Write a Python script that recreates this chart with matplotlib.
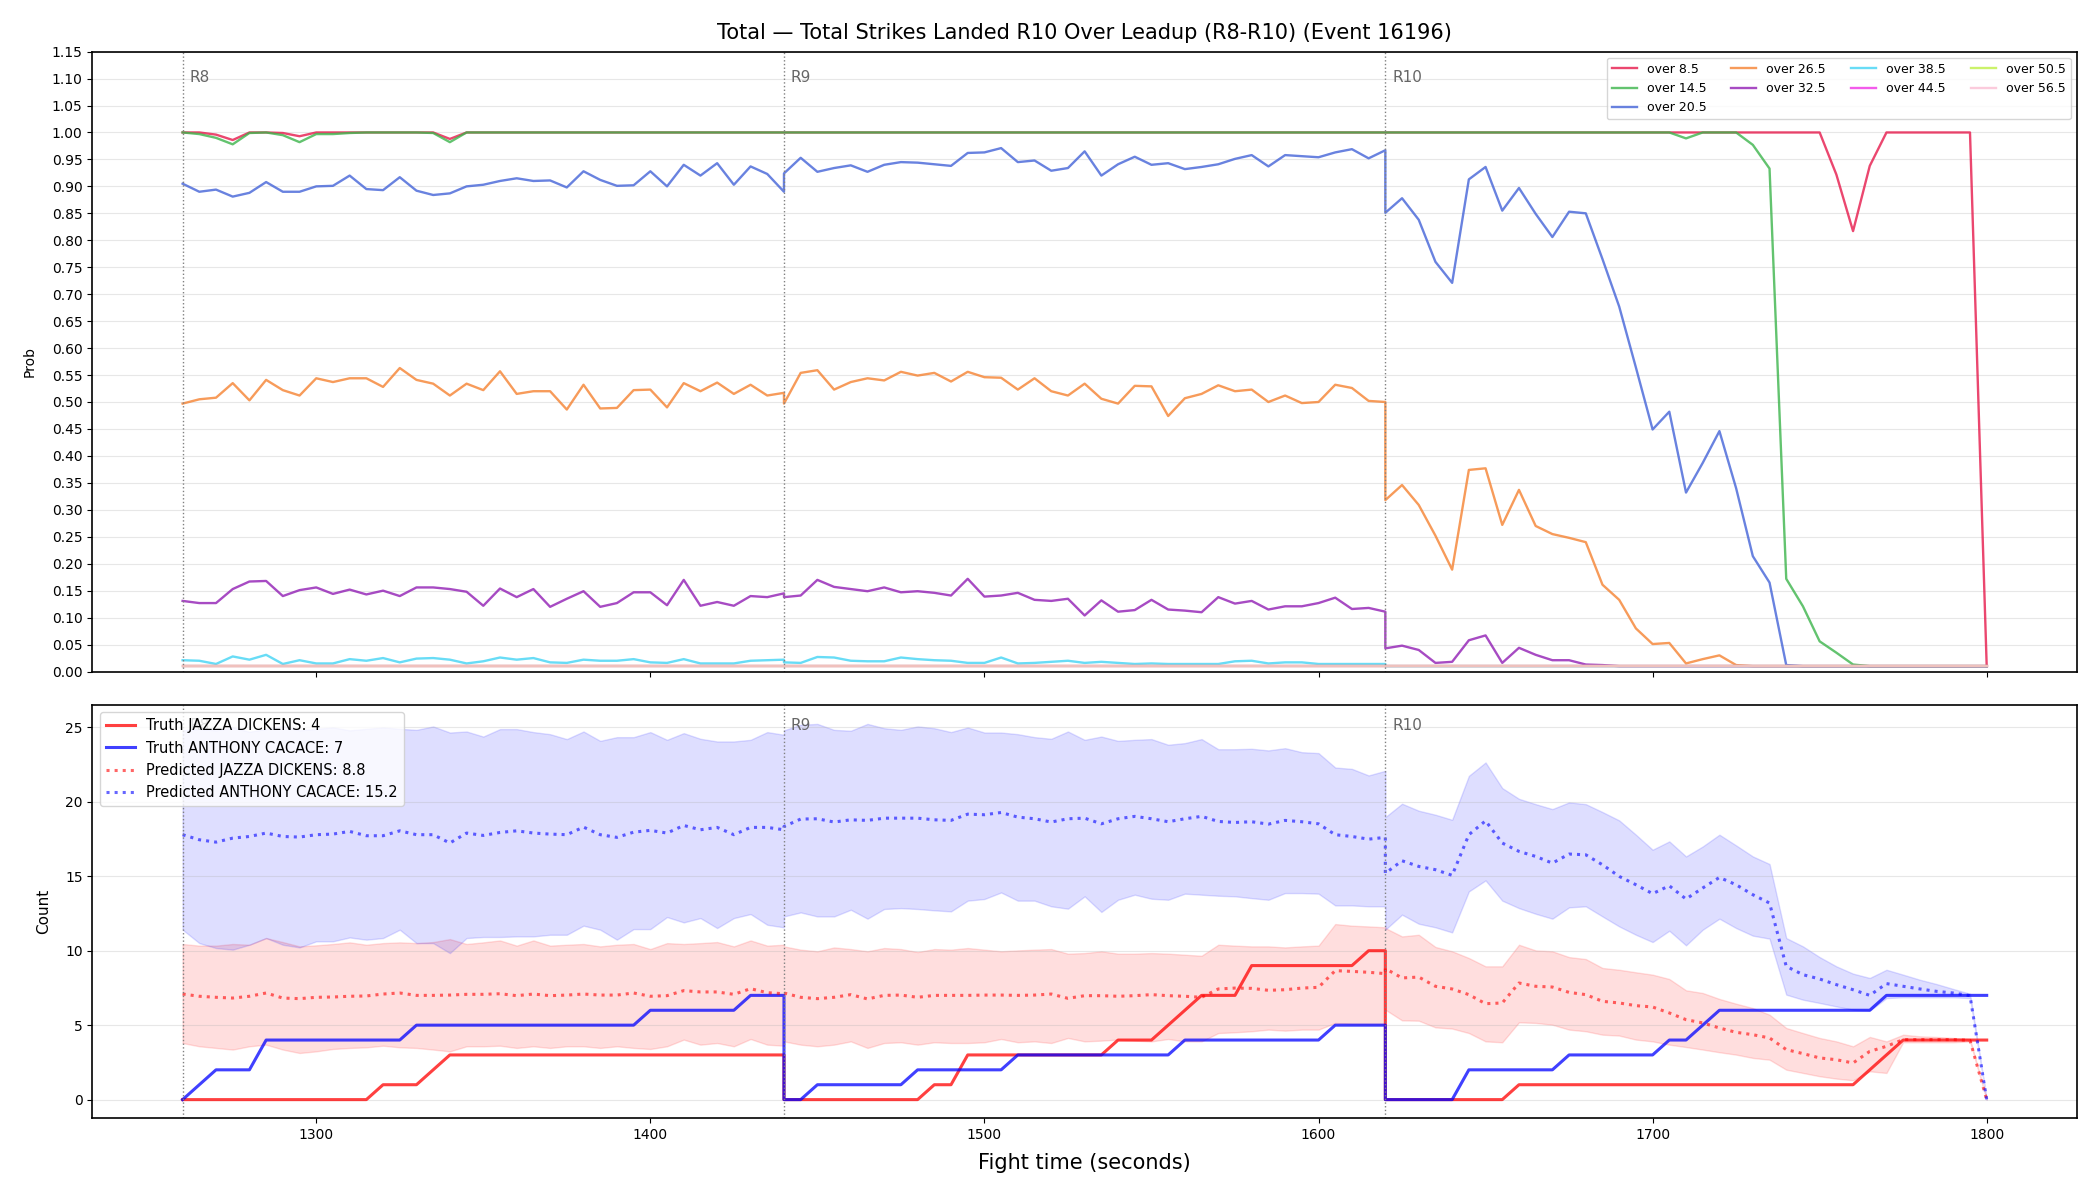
import numpy as np
import matplotlib
matplotlib.use('Agg')
import matplotlib.pyplot as plt

# ---- time grid: three rounds, a sample every 5 s, each round includes both ends
round_names = ['R8', 'R9', 'R10']
round_starts = [1260, 1440, 1620]
round_len = 180
step = 5

# ---- top panel: probability of "over X" lines (R8 | R9 | R10, 37 samples each)
over_8_5 = ([1.0, 1.0, 0.996, 0.986, 1.0, 1.0, 0.999, 0.993, 1.0, 1.0, 1.0, 1.0, 1.0, 1.0, 1.0, 1.0, 0.988] + [1.0] * 20
            + [1.0] * 37
            + [1.0] * 27 + [0.922, 0.817, 0.938] + [1.0] * 6 + [0.01])
over_14_5 = ([1.0, 0.997, 0.990, 0.978, 0.999, 1.0, 0.995, 0.982, 0.997, 0.997, 0.999, 1.0, 1.0, 1.0, 1.0, 0.999, 0.982] + [1.0] * 20
             + [1.0] * 37
             + [1.0] * 18 + [0.989, 1.0, 1.0, 1.0, 0.977, 0.933, 0.172, 0.121, 0.056, 0.035, 0.013] + [0.01] * 8)
over_20_5 = ([0.905, 0.890, 0.894, 0.881, 0.888, 0.908, 0.890, 0.890, 0.900, 0.901, 0.920, 0.895, 0.893, 0.917, 0.892, 0.884,
              0.887, 0.900, 0.903, 0.910, 0.915, 0.910, 0.911, 0.898, 0.928, 0.912, 0.901, 0.902, 0.928, 0.900, 0.940, 0.920,
              0.943, 0.903, 0.937, 0.923, 0.890]
             + [0.924, 0.953, 0.927, 0.934, 0.939, 0.927, 0.940, 0.945, 0.944, 0.941, 0.938, 0.962, 0.963, 0.971, 0.945, 0.948,
                0.929, 0.934, 0.965, 0.920, 0.941, 0.955, 0.940, 0.943, 0.932, 0.936, 0.941, 0.951, 0.958, 0.937, 0.958, 0.956,
                0.954, 0.963, 0.969, 0.952, 0.967]
             + [0.851, 0.878, 0.838, 0.760, 0.721, 0.913, 0.936, 0.855, 0.897, 0.849, 0.806, 0.853, 0.850, 0.765, 0.677, 0.564,
                0.449, 0.482, 0.332, 0.387, 0.446, 0.340, 0.214, 0.165, 0.012] + [0.01] * 12)
over_26_5 = ([0.497, 0.505, 0.508, 0.535, 0.503, 0.541, 0.522, 0.512, 0.544, 0.537, 0.544, 0.544, 0.528, 0.563, 0.541, 0.534,
              0.512, 0.534, 0.522, 0.557, 0.515, 0.520, 0.520, 0.486, 0.532, 0.488, 0.489, 0.522, 0.523, 0.490, 0.535, 0.520,
              0.536, 0.515, 0.532, 0.512, 0.517]
             + [0.497, 0.554, 0.559, 0.523, 0.537, 0.544, 0.540, 0.556, 0.549, 0.554, 0.538, 0.556, 0.546, 0.545, 0.523, 0.544,
                0.520, 0.512, 0.534, 0.506, 0.497, 0.530, 0.529, 0.474, 0.507, 0.515, 0.531, 0.520, 0.523, 0.500, 0.512, 0.498,
                0.500, 0.532, 0.526, 0.502, 0.500]
             + [0.318, 0.346, 0.309, 0.252, 0.189, 0.374, 0.377, 0.272, 0.337, 0.270, 0.255, 0.248, 0.240, 0.161, 0.133, 0.080,
                0.051, 0.053, 0.015, 0.023, 0.030, 0.012] + [0.01] * 15)
over_32_5 = ([0.131, 0.127, 0.127, 0.153, 0.167, 0.168, 0.140, 0.151, 0.156, 0.144, 0.152, 0.143, 0.150, 0.140, 0.156, 0.156,
              0.153, 0.148, 0.122, 0.154, 0.138, 0.153, 0.120, 0.135, 0.149, 0.120, 0.127, 0.147, 0.147, 0.123, 0.170, 0.122,
              0.129, 0.122, 0.140, 0.138, 0.145]
             + [0.138, 0.141, 0.170, 0.157, 0.153, 0.149, 0.156, 0.147, 0.149, 0.146, 0.141, 0.172, 0.139, 0.141, 0.146, 0.133,
                0.131, 0.135, 0.104, 0.132, 0.111, 0.114, 0.133, 0.115, 0.113, 0.110, 0.138, 0.126, 0.131, 0.115, 0.121, 0.121,
                0.127, 0.137, 0.116, 0.118, 0.111]
             + [0.043, 0.048, 0.040, 0.016, 0.018, 0.058, 0.067, 0.016, 0.044, 0.031, 0.021, 0.021, 0.013, 0.012] + [0.01] * 23)
over_38_5 = ([0.021, 0.020, 0.014, 0.028, 0.022, 0.031, 0.014, 0.021, 0.015, 0.015, 0.023, 0.020, 0.025, 0.017, 0.024, 0.025,
              0.022, 0.015, 0.019, 0.026, 0.022, 0.025, 0.017, 0.016, 0.022, 0.020, 0.020, 0.023, 0.017, 0.016, 0.023, 0.015,
              0.015, 0.015, 0.020, 0.021, 0.022]
             + [0.017, 0.016, 0.027, 0.026, 0.020, 0.019, 0.019, 0.026, 0.023, 0.021, 0.020, 0.016, 0.016, 0.026, 0.015, 0.016,
                0.018, 0.020, 0.016, 0.018, 0.016, 0.014, 0.015, 0.014, 0.014, 0.014, 0.014, 0.019, 0.020, 0.015, 0.017, 0.017,
                0.014, 0.014, 0.014, 0.014, 0.014]
             + [0.01] * 37)
over_44_5 = [0.01] * 111
over_50_5 = [0.01] * 111
over_56_5 = [0.01] * 111

line_labels = ['over 8.5', 'over 14.5', 'over 20.5', 'over 26.5', 'over 32.5',
               'over 38.5', 'over 44.5', 'over 50.5', 'over 56.5']
line_colors = ['#e6194b', '#3cb44b', '#4363d8', '#f58231', '#911eb4',
               '#42d4f4', '#f032e6', '#bfef45', '#fabed4']

# ---- bottom panel: cumulative counts within each round
fighter_a = 'JAZZA DICKENS'
fighter_b = 'ANTHONY CACACE'

truth_a = ([0] * 12 + [1, 1, 1, 2, 3] + [3] * 20
           + [0] * 9 + [1, 1] + [3] * 9 + [4, 4, 4, 5, 6, 7, 7, 7] + [9] * 7 + [10, 10]
           + [0] * 8 + [1] * 21 + [2, 3] + [4] * 6)
truth_b = ([0, 1, 2, 2, 2] + [4] * 9 + [5] * 14 + [6] * 6 + [7] * 3
           + [0, 0] + [1] * 6 + [2] * 6 + [3] * 10 + [4] * 9 + [5] * 4
           + [0] * 5 + [2] * 6 + [3] * 6 + [4, 4, 5] + [6] * 10 + [7] * 7)

pred_a = ([7.09, 6.94, 6.87, 6.82, 6.94, 7.16, 6.82, 6.78, 6.87, 6.89, 6.94, 6.96, 7.09, 7.16, 7.00, 7.00, 7.02, 7.07, 7.07,
           7.11, 6.98, 7.09, 6.98, 7.02, 7.09, 7.02, 7.02, 7.16, 6.94, 6.98, 7.32, 7.23, 7.23, 7.07, 7.45, 7.18, 7.11]
          + [7.16, 6.87, 6.78, 6.87, 7.05, 6.76, 7.00, 7.02, 6.87, 7.00, 7.00, 7.00, 7.02, 7.02, 7.00, 7.02, 7.09, 6.80, 6.98,
             6.98, 6.94, 6.98, 7.05, 6.98, 6.94, 6.87, 7.43, 7.49, 7.47, 7.34, 7.38, 7.49, 7.54, 8.66, 8.61, 8.55, 8.46]
          + [8.8, 8.17, 8.23, 7.61, 7.43, 7.05, 6.44, 6.49, 7.83, 7.61, 7.56, 7.20, 7.05, 6.60, 6.49, 6.31, 6.22, 5.82, 5.37,
             5.15, 4.81, 4.52, 4.36, 4.14, 3.36, 3.09, 2.80, 2.68, 2.46, 3.24, 3.58, 4.03, 4.03, 4.03, 4.03, 3.98, 0.0])
pred_b = ([17.79, 17.45, 17.29, 17.56, 17.67, 17.90, 17.67, 17.63, 17.79, 17.83, 18.01, 17.72, 17.72, 18.05, 17.79, 17.79,
           17.23, 17.90, 17.74, 17.94, 18.05, 17.90, 17.83, 17.79, 18.30, 17.79, 17.61, 17.96, 18.08, 17.90, 18.41, 18.12,
           18.28, 17.79, 18.28, 18.28, 18.12]
          + [18.34, 18.84, 18.86, 18.64, 18.79, 18.75, 18.90, 18.90, 18.90, 18.79, 18.75, 19.17, 19.13, 19.28, 18.97, 18.86,
             18.64, 18.86, 18.90, 18.52, 18.86, 19.02, 18.86, 18.66, 18.86, 19.02, 18.68, 18.61, 18.66, 18.50, 18.75, 18.66,
             18.52, 17.79, 17.67, 17.49, 17.61]
          + [15.2, 16.04, 15.66, 15.44, 15.06, 17.79, 18.72, 17.23, 16.67, 16.33, 15.88, 16.49, 16.44, 15.77, 14.99, 14.43,
             13.83, 14.36, 13.47, 14.21, 14.92, 14.43, 13.76, 13.20, 8.95, 8.39, 8.10, 7.72, 7.38, 7.00, 7.79, 7.61, 7.43,
             7.27, 7.16, 6.98, 0.0])

upper_a = ([10.45, 10.34, 10.34, 10.45, 10.40, 10.85, 10.58, 10.29, 10.36, 10.45, 10.56, 10.40, 10.51, 10.56, 10.51, 10.58,
            10.78, 10.45, 10.56, 10.69, 10.34, 10.69, 10.34, 10.40, 10.45, 10.29, 10.40, 10.45, 10.11, 10.51, 10.45, 10.51,
            10.58, 10.29, 10.69, 10.34, 10.40]
           + [10.29, 10.07, 9.96, 10.22, 10.11, 9.96, 10.18, 10.11, 9.91, 10.11, 10.07, 10.18, 10.07, 9.96, 10.02, 10.07,
              10.11, 9.80, 9.84, 9.96, 9.80, 9.80, 9.84, 9.80, 9.73, 9.66, 10.40, 10.34, 10.29, 10.29, 10.22, 10.29, 10.34,
              11.79, 11.68, 11.63, 11.57]
           + [11.52, 10.96, 11.07, 10.25, 9.96, 9.51, 8.95, 8.95, 10.40, 10.02, 9.96, 9.57, 9.44, 8.84, 8.72, 8.55, 8.39,
              8.10, 7.34, 7.16, 6.76, 6.44, 6.15, 5.70, 4.81, 4.47, 4.14, 3.91, 3.58, 4.21, 3.91, 4.36, 4.25, 4.21, 4.14,
              4.07, 0.0])
lower_a = ([3.80, 3.58, 3.47, 3.36, 3.58, 3.69, 3.36, 3.13, 3.24, 3.40, 3.47, 3.51, 3.62, 3.51, 3.47, 3.36, 3.24, 3.58, 3.58,
            3.62, 3.47, 3.58, 3.47, 3.58, 3.58, 3.47, 3.58, 3.47, 3.40, 3.58, 4.03, 3.69, 3.80, 3.58, 4.07, 3.69, 3.62]
           + [3.91, 3.69, 3.58, 3.69, 3.91, 3.47, 3.80, 3.85, 3.69, 3.85, 3.80, 3.80, 3.85, 4.07, 3.85, 3.91, 3.80, 4.14,
              3.91, 3.96, 4.03, 3.96, 3.91, 4.07, 3.91, 3.91, 4.47, 4.52, 4.59, 4.70, 4.63, 4.70, 4.70, 5.15, 5.08, 5.08, 5.08]
           + [6.04, 5.32, 5.30, 4.85, 4.77, 4.47, 3.91, 3.85, 5.19, 5.15, 5.03, 4.70, 4.59, 4.36, 4.30, 4.03, 3.91, 3.69,
              3.53, 3.36, 3.18, 3.02, 2.80, 2.68, 2.01, 1.79, 1.57, 1.41, 1.30, 1.90, 1.79, 3.85, 3.85, 3.85, 3.85, 3.91, 0.0])
upper_b = ([24.8, 24.9, 24.8, 25.0, 24.7, 24.9, 25.1, 24.8, 24.9, 25.0, 24.8, 24.9, 25.0, 24.9, 24.83, 25.06, 24.65, 24.72,
            24.38, 24.88, 24.88, 24.68, 24.54, 24.21, 24.72, 24.09, 24.34, 24.34, 24.68, 24.16, 24.61, 24.23, 24.05, 24.05,
            24.16, 24.68, 24.50]
           + [24.8, 25.17, 25.23, 24.83, 24.77, 25.23, 24.94, 24.83, 25.06, 24.94, 24.68, 24.99, 24.65, 24.65, 24.54, 24.34,
              24.23, 24.72, 24.16, 24.38, 24.09, 24.16, 24.21, 23.83, 23.94, 24.21, 23.53, 23.53, 23.56, 23.45, 23.60, 23.33,
              23.27, 22.30, 22.21, 21.77, 22.08]
           + [18.97, 19.87, 19.40, 19.13, 18.79, 21.74, 22.64, 20.92, 20.20, 19.84, 19.51, 19.96, 19.84, 19.31, 18.75,
              17.79, 16.78, 17.34, 16.33, 17.00, 17.79, 17.07, 16.33, 15.82, 10.85, 10.29, 9.57, 8.95, 8.46, 8.17, 8.72,
              8.39, 8.05, 7.76, 7.43, 7.11, 0.0])
lower_b = ([11.41, 10.51, 10.18, 10.07, 10.40, 10.85, 10.40, 10.22, 10.63, 10.63, 10.89, 10.74, 10.85, 11.41, 10.51, 10.51,
            9.84, 10.85, 10.92, 10.92, 10.96, 10.96, 11.07, 11.07, 11.68, 11.41, 10.74, 11.45, 11.45, 12.26, 11.90, 12.19,
            11.52, 12.19, 12.46, 11.74, 11.57]
           + [12.30, 12.57, 12.30, 12.30, 12.75, 12.15, 12.80, 12.86, 12.80, 12.71, 12.64, 13.36, 13.47, 13.91, 13.36, 13.36,
              12.98, 12.82, 13.65, 12.60, 13.42, 13.76, 13.49, 13.42, 13.83, 13.76, 13.69, 13.65, 13.53, 13.42, 13.87, 13.87,
              13.83, 13.04, 13.04, 12.98, 12.98]
           + [11.41, 12.42, 11.81, 11.57, 11.23, 13.98, 14.72, 13.36, 12.86, 12.48, 12.15, 12.91, 12.98, 12.30, 11.63,
              11.07, 10.58, 11.34, 10.36, 11.41, 12.15, 11.52, 11.01, 10.81, 7.05, 6.71, 6.49, 6.26, 6.04, 5.97, 6.82, 6.87,
              6.87, 6.87, 6.87, 6.82, 0.0])

final_truth_a = 4
final_truth_b = 7
final_pred_a = 8.8
final_pred_b = 15.2

t = np.concatenate([np.arange(s, s + round_len + 1, step) for s in round_starts])

fig, (ax1, ax2) = plt.subplots(2, 1, figsize=(21, 12), dpi=100, sharex=True,
                               gridspec_kw={'height_ratios': [3, 2]})
fig.subplots_adjust(left=0.044, right=0.989, top=0.957, bottom=0.068, hspace=0.065)

# top: probabilities
over_series = [over_8_5, over_14_5, over_20_5, over_26_5, over_32_5,
               over_38_5, over_44_5, over_50_5, over_56_5]
for vals, lab, col in zip(over_series, line_labels, line_colors):
    ax1.plot(t, vals, color=col, lw=1.7, alpha=0.8, label=lab)

ax1.set_ylim(0, 1.15)
ax1.set_yticks(np.arange(0, 1.151, 0.05))
ax1.yaxis.set_major_formatter(plt.FormatStrFormatter('%.2f'))
ax1.set_ylabel('Prob', fontsize=10, labelpad=11)
ax1.set_title('Total \u2014 Total Strikes Landed R10 Over Leadup (R8-R10) (Event 16196)', fontsize=15, pad=9)
ax1.grid(axis='y', alpha=0.3)
ax1.legend(loc='upper right', ncol=4, fontsize=9)

# bottom: counts
ax2.fill_between(t, lower_a, upper_a, color='red', alpha=0.13)
ax2.fill_between(t, lower_b, upper_b, color='blue', alpha=0.13)
ax2.plot(t, truth_a, color='red', lw=2.2, alpha=0.75, label=f'Truth {fighter_a}: {final_truth_a}')
ax2.plot(t, truth_b, color='blue', lw=2.2, alpha=0.75, label=f'Truth {fighter_b}: {final_truth_b}')
ax2.plot(t, pred_a, color='red', lw=2.2, ls=':', alpha=0.6, label=f'Predicted {fighter_a}: {final_pred_a}')
ax2.plot(t, pred_b, color='blue', lw=2.2, ls=':', alpha=0.6, label=f'Predicted {fighter_b}: {final_pred_b}')
ax2.set_ylabel('Count', fontsize=11, labelpad=10)
ax2.set_xlabel('Fight time (seconds)', fontsize=15, labelpad=8)
ax2.grid(axis='y', alpha=0.3)
ax2.legend(loc='upper left', fontsize=10.5)

# round markers
for ax in (ax1, ax2):
    for name, s in zip(round_names, round_starts):
        ax.axvline(s, color='gray', ls=':', lw=1)
        ax.text(s + 2, 0.97, name, transform=ax.get_xaxis_transform(),
                ha='left', va='top', fontsize=11, color='#666666')
    for sp in ax.spines.values():
        sp.set_linewidth(1.2)
    ax.tick_params(labelsize=10)

plt.savefig('out.png')
